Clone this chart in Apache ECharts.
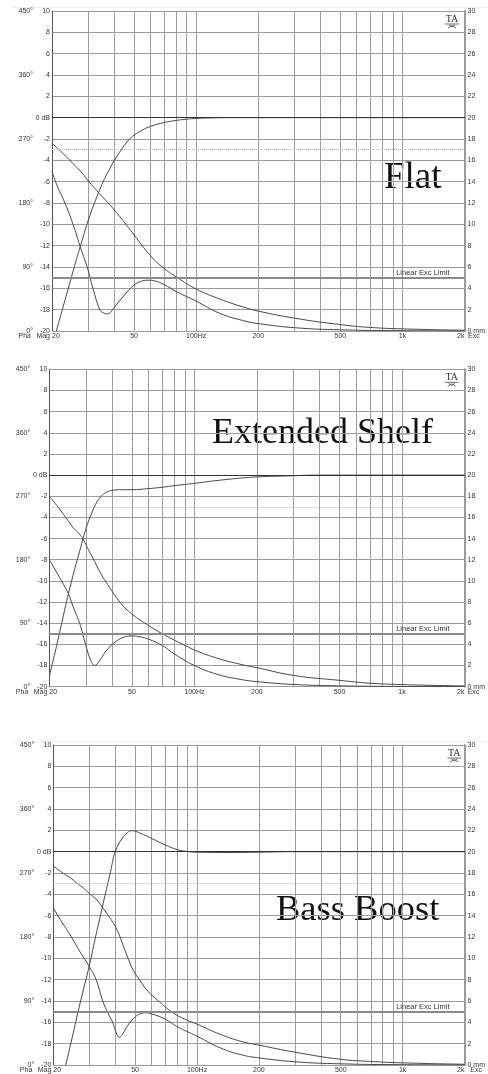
<!DOCTYPE html>
<html><head><meta charset="utf-8">
<script src="https://cdn.jsdelivr.net/npm/echarts@6/dist/echarts.min.js"></script>
<style>html,body{margin:0;padding:0;background:#fff}#c{width:488px;height:1074px}</style>
</head><body><div id="c"></div>
<script>
// ---------- data ----------
const freqGrid = [20,30,40,50,60,70,80,90,100,200,300,400,500,600,700,800,900,1000,2000];
const freqLabelValues = [20,50,100,200,500,1000,2000];
const freqLabelNames = ['20','50','100Hz','200','500','1k','2k'];
const titles = ['Flat','Extended Shelf','Bass Boost'];
const excLimitMm = 5;          // Linear Exc Limit
const refLevelDb = 0;          // 0 dB reference
const cutoffLevelDb = -3;      // -3 dB dotted reference

// Flat
const flatMag = [[20,-21.5],[21,-20],[22,-18.6],[24,-16.0],[26,-13.6],[28,-11.5],[30,-9.6],[32,-8.1],[34,-6.8],[36,-5.7],[38,-4.85],[40,-4.05],[43,-3.1],[47,-2.1],[50,-1.65],[55,-1.15],[60,-0.82],[70,-0.45],[80,-0.26],[90,-0.14],[100,-0.07],[120,-0.02],[150,0],[2000,0]];
const flatPhase = [[20,264],[22,253],[25,237],[28,222],[30,211],[34,193],[38,178],[44,156],[50,135],[60,106],[68.5,90],[81,75],[100,59],[130,45],[168,34],[200,28],[300,18],[500,9],[700,5],[1000,3],[2000,1]];
const flatExc = [[20,15.0],[21,13.8],[23.1,12.0],[25.3,10.0],[27.3,8.0],[29.6,6.0],[31.6,4.0],[34.1,2.0],[35.5,1.7],[37,1.6],[40,2.2],[45,3.4],[50,4.3],[54,4.65],[58,4.76],[62,4.72],[70,4.35],[80,3.7],[100,2.8],[130,1.66],[168,0.99],[200,0.7],[300,0.31],[500,0.11],[1000,0.03],[2000,0.01]];

// Extended Shelf
const shelfMag = [[20,-19.0],[21,-17.3],[22,-15.6],[24,-12.3],[26,-9.5],[28,-7.2],[30,-5.1],[32,-3.6],[34,-2.5],[36,-1.9],[38,-1.6],[40,-1.45],[45,-1.38],[50,-1.38],[60,-1.28],[70,-1.15],[80,-1.0],[100,-0.78],[130,-0.5],[170,-0.27],[200,-0.17],[300,-0.06],[400,0],[2000,0]];
const shelfPhase = [[20,270],[22,255],[24,240],[26,226],[28,216],[29,210],[31,193],[33,178],[35,163],[37.6,148],[40,136],[44.3,118],[50,103],[60,87],[70,75],[80,66],[91,58],[100,52],[130,40],[171,31],[200,27],[300,16],[500,9],[700,5],[1000,3],[2000,1]];
const shelfExc = [[20,12.0],[22,10.6],[24.7,8.8],[26,7.6],[28,6.0],[29.9,4.0],[31.5,2.6],[33.1,2.0],[35,2.5],[38,3.5],[42,4.3],[46,4.7],[49.6,4.8],[55,4.7],[60,4.5],[70,3.9],[80,3.1],[100,2.0],[130,1.15],[171,0.65],[200,0.48],[300,0.21],[500,0.08],[1000,0.02],[2000,0.01]];

// Bass Boost
const boostMag = [[20,-25],[23,-20],[25,-17],[27,-14.2],[30,-10.6],[32,-8.1],[34,-5.9],[35.3,-4.5],[38,-1.85],[40,0],[43.3,1.25],[46,1.8],[48,1.97],[50,1.92],[55,1.6],[60,1.25],[70,0.63],[80,0.2],[90,0.02],[100,-0.05],[150,-0.08],[200,-0.05],[300,0],[2000,0]];
const boostPhase = [[20,280],[22,271],[24,264],[26,256],[28,249],[30,241],[32.6,232],[35,220],[37.5,208],[40,195],[42.1,181],[44,166],[46.5,148],[49,133],[52.5,120],[58,103],[65,90],[76,74],[88,64],[99,58],[130,43],[165,33],[200,28],[300,18],[500,8],[700,5],[1000,3],[2000,1]];
const boostExc = [[20,14.7],[22,13.4],[24.5,12.0],[27,10.6],[30,9.2],[32.3,8.0],[34.8,6.0],[36.8,4.9],[38.9,4.0],[40.5,3.0],[41.9,2.6],[43.5,2.9],[46,3.7],[50,4.5],[53,4.8],[56.2,4.9],[60,4.8],[70,4.3],[80,3.6],[100,2.7],[130,1.6],[165,0.95],[200,0.67],[300,0.3],[500,0.11],[1000,0.03],[2000,0.01]];

const panels = [
  {mag: flatMag, phase: flatPhase, exc: flatExc},
  {mag: shelfMag, phase: shelfPhase, exc: shelfExc},
  {mag: boostMag, phase: boostPhase, exc: boostExc}
];

// ---------- layout / style ----------
const layout = [
  {left:52, top:11, width:415, height:320, title:{x:384, y:178, size:37}, frameY:7.3, frameX:12},
  {left:49.3, top:369.3, width:417.4, height:317.4, title:{x:212, y:434, size:36}, frameY:null},
  {left:53.3, top:745, width:416, height:320, title:{x:276, y:910, size:36.5}, frameY:741.7, frameX:13}
];
const FONT = '"Liberation Sans", Arial, sans-serif';
const SERIF = '"Liberation Serif", "Times New Roman", serif';
const txt = '#333';
const gridCol = '#9c9c9c';
const curveCol = '#474747';

const grids = [], xAxes = [], yAxes = [], series = [], graphics = [];
layout.forEach((L, p) => {
  grids.push({left:L.left, top:L.top, width:L.width, height:L.height, containLabel:false});
  xAxes.push({
    gridIndex:p, type:'log', logBase:10, min:20, max:2000,
    axisLine:{show:true, lineStyle:{color:'#555', width:1}},
    axisTick:{show:false, customValues:freqGrid},
    splitLine:{show:true, lineStyle:{color:gridCol, width:1}},
    axisLabel:{customValues:freqLabelValues, fontSize:7, color:txt, fontFamily:FONT, margin:2,
      showMinLabel:true, showMaxLabel:true, alignMinLabel:'left', alignMaxLabel:'right',
      formatter: v => { const i = freqLabelValues.findIndex(f => Math.abs(f - v) < 1e-6 * f + 0.01); return i >= 0 ? freqLabelNames[i] : ''; }}
  });
  yAxes.push({
    gridIndex:p, type:'value', min:-20, max:10, interval:2, position:'left',
    axisLine:{show:true, lineStyle:{color:'#555'}}, axisTick:{show:false},
    axisLabel:{fontSize:7, color:txt, fontFamily:FONT, margin:2, formatter: v => v === 0 ? '0 dB' : String(v)},
    splitLine:{show:true, lineStyle:{color:gridCol, width:1}}
  });
  yAxes.push({
    gridIndex:p, type:'value', min:0, max:450, interval:90, position:'left', offset:17,
    axisLine:{show:false}, axisTick:{show:false}, splitLine:{show:false},
    axisLabel:{fontSize:7, color:txt, fontFamily:FONT, margin:2, formatter: v => v + '°'}
  });
  yAxes.push({
    gridIndex:p, type:'value', min:0, max:30, interval:2, position:'right',
    axisLine:{show:true, lineStyle:{color:'#9a9a9a', width:2}}, axisTick:{show:false}, splitLine:{show:false},
    axisLabel:{fontSize:7, color:txt, fontFamily:FONT, margin:3, formatter: v => v === 0 ? '0 mm' : String(v)}
  });
  const P = panels[p];
  const base = {type:'line', xAxisIndex:p, showSymbol:false, symbol:'none', smooth:0.45,
    lineStyle:{color:curveCol, width:1}, silent:true, animation:false, z:3};
  series.push(Object.assign({}, base, {yAxisIndex:3*p, data:P.mag,
    markLine:{silent:true, symbol:'none', animation:false, label:{show:false}, data:[
      {yAxis:refLevelDb, lineStyle:{color:'#333', width:1.2, type:'solid'}},
      {yAxis:cutoffLevelDb, lineStyle:{color:'#b5b5b5', width:1, type:[1,1]}}
    ]}}));
  series.push(Object.assign({}, base, {yAxisIndex:3*p+1, data:P.phase}));
  series.push(Object.assign({}, base, {yAxisIndex:3*p+2, data:P.exc,
    markLine:{silent:true, symbol:'none', animation:false, data:[
      {yAxis:excLimitMm, lineStyle:{color:'#8a8a8a', width:2, type:'solid'},
       label:{show:true, position:'insideEndTop', formatter:'Linear Exc Limit', fontSize:7.5, color:txt, fontFamily:FONT, distance:[15,1]}}
    ]}}));

  const bottom = L.top + L.height;
  const right = L.left + L.width;
  graphics.push({type:'text', x:L.left - 2, y:bottom + 5, style:{text:'Mag', fill:txt, font:'7px '+FONT, align:'right', verticalAlign:'middle'}});
  graphics.push({type:'text', x:L.left - 21, y:bottom + 5, style:{text:'Pha', fill:txt, font:'7px '+FONT, align:'right', verticalAlign:'middle'}});
  graphics.push({type:'text', x:right + 1, y:bottom + 5, style:{text:'Exc', fill:txt, font:'7px '+FONT, align:'left', verticalAlign:'middle'}});
  graphics.push({type:'text', x:L.title.x, y:L.title.y, style:{text:titles[p], fill:'#111', font:L.title.size + 'px ' + SERIF, align:'left', verticalAlign:'middle'}});
  if (L.frameY !== null) {
    graphics.push({type:'line', shape:{x1:L.frameX, y1:L.frameY, x2:488, y2:L.frameY}, style:{stroke:'#ececec', lineWidth:1}});
  }
  // TA logo
  const tx = right - 15, ty = L.top + 8;
  graphics.push({type:'text', x:tx, y:ty, style:{text:'TA', fill:'#333', font:'10px ' + SERIF, align:'center', verticalAlign:'middle'}});
  graphics.push({type:'line', shape:{x1:tx - 7, y1:ty + 5, x2:tx + 7, y2:ty + 5}, style:{stroke:'#444', lineWidth:0.8}});
  graphics.push({type:'polyline', shape:{points:[[tx - 4, ty + 9],[tx, ty + 6.5],[tx + 4, ty + 9]]}, style:{stroke:'#444', lineWidth:0.8, fill:null}});
  graphics.push({type:'polyline', shape:{points:[[tx - 3, ty + 6],[tx, ty + 8],[tx + 3, ty + 6]]}, style:{stroke:'#444', lineWidth:0.8, fill:null}});
});

const chart = echarts.init(document.getElementById('c'), null, {renderer:'canvas'});
chart.setOption({
  backgroundColor:'#fff', animation:false,
  grid:grids, xAxis:xAxes, yAxis:yAxes, series:series, graphic:graphics
});
</script></body></html>
